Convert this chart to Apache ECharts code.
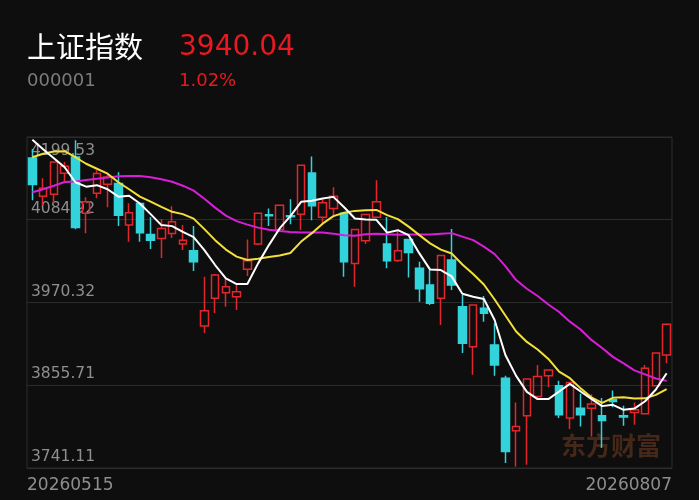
<!DOCTYPE html>
<html>
<head>
<meta charset="utf-8">
<script src="https://cdn.jsdelivr.net/npm/echarts@6/dist/echarts.min.js"></script>
<style>
html,body{margin:0;padding:0;background:#0e0e0e;}
#c{width:699px;height:500px;}
</style>
</head>
<body>
<div id="c"></div>
<script>
const indexName = '上证指数';
const indexCode = '000001';
const lastPriceText = '3940.04';
const changeText = '1.02%';
const watermarkText = '东方财富';

const dates = ['20260515','20260518','20260519','20260520','20260521','20260522','20260525','20260526','20260527','20260528','20260529',
'20260601','20260602','20260603','20260604','20260605','20260608','20260609','20260610','20260611','20260612','20260615','20260616','20260617','20260618','20260622','20260623','20260624','20260625','20260626','20260629','20260630',
'20260701','20260702','20260703','20260706','20260707','20260708','20260709','20260710','20260713','20260714','20260715','20260716','20260717','20260720','20260721','20260722','20260723','20260724','20260727','20260728','20260729','20260730','20260731',
'20260803','20260804','20260805','20260806','20260807'];

const opens = [4170.5,4117.5,4120.3,4149.3,4171.9,4094.0,4121.7,4134.1,4135.1,4077.5,4107.5,4064.6,4059.1,4066.0,4051.2,4041.9,3937.8,3976.1,3983.9,3978.3,4016.2,4051.2,4092.0,4071.5,4090.6,4092.7,4149.8,4088.5,4100.5,4094.0,4024.5,4055.8,4088.5,4051.2,4028.4,4057.4,4017.6,3994.5,3976.1,4029.1,3964.5,3909.2,3962.3,3911.6,3865.5,3792.7,3813.4,3840.1,3868.7,3854.9,3810.2,3824.0,3824.0,3813.4,3835.5,3813.4,3818.0,3816.2,3854.9,3897.7];
const closes = [4133.7,4128.6,4165.0,4159.0,4074.3,4109.7,4148.9,4144.2,4091.3,4094.5,4066.8,4056.7,4072.9,4082.0,4056.7,4026.7,3959.0,4008.3,3992.2,3985.2,4028.1,4094.0,4090.6,4105.1,4089.2,4160.4,4104.4,4108.3,4117.5,4026.7,4071.5,4092.2,4110.0,4028.1,4041.9,4039.4,3989.4,3969.2,4035.3,3994.5,3913.9,3966.8,3955.4,3883.9,3764.0,3798.6,3864.5,3867.7,3877.0,3814.8,3859.4,3814.8,3829.6,3806.9,3833.2,3811.6,3821.7,3879.3,3900.26,3940.04];
const lows = [4112.0,4105.1,4107.9,4137.3,4071.9,4066.4,4114.8,4102.3,4076.1,4054.4,4054.4,4044.3,4031.8,4059.5,4042.9,4013.9,3928.1,3955.8,3964.5,3959.9,4006.9,4050.0,4076.1,4070.0,4078.8,4070.6,4084.4,4080.2,4088.5,4005.9,3992.2,4051.2,4088.0,4017.6,4026.3,4004.9,3971.4,3966.8,3939.2,3987.6,3900.5,3870.1,3943.8,3868.7,3748.0,3743.3,3745.6,3835.5,3853.1,3810.2,3795.0,3798.6,3784.8,3768.7,3825.4,3799.6,3800.9,3815.5,3854.0,3886.2];
const highs = [4183.0,4142.4,4166.0,4165.0,4195.0,4116.2,4153.5,4148.0,4150.7,4107.9,4108.0,4088.5,4085.8,4103.7,4077.5,4076.1,4005.9,4009.7,4004.2,3997.3,4057.7,4095.0,4100.5,4106.0,4113.4,4161.0,4172.4,4113.4,4130.0,4095.0,4072.0,4093.0,4139.7,4088.9,4068.2,4058.0,4026.7,4015.3,4036.0,4072.0,3980.7,3967.0,3979.3,3941.5,3868.7,3831.8,3865.0,3883.9,3877.5,3861.8,3860.0,3843.8,3843.4,3837.9,3848.4,3827.2,3831.8,3883.9,3901.5,3940.8];

const ma5 = [4195.7,4182.5,4170.1,4157.6,4136.9,4130.7,4132.8,4127.2,4116.9,4118.2,4107.5,4092.7,4077.5,4076.1,4068.2,4060.9,4042.9,4022.2,4003.8,3995.9,3995.9,4024.5,4049.8,4072.9,4089.9,4109.7,4111.3,4114.4,4116.6,4102.3,4086.7,4085.3,4084.8,4067.1,4070.5,4063.6,4038.3,4015.9,4015.2,4006.5,3982.5,3978.3,3975.2,3946.1,3897.7,3868.7,3846.6,3836.6,3836.5,3847.0,3857.6,3847.0,3836.9,3826.8,3828.6,3821.7,3823.4,3833.5,3849.8,3872.4];
const ma10 = [4171.5,4176.3,4179.4,4179.8,4171.5,4162.5,4155.6,4148.7,4136.9,4127.2,4116.9,4110.0,4102.8,4095.9,4092.7,4086.5,4071.9,4056.7,4043.6,4033.9,4029.1,4030.9,4033.2,4035.3,4038.8,4054.7,4066.4,4079.5,4089.9,4094.7,4097.2,4098.2,4098.6,4091.3,4085.8,4075.4,4063.6,4052.2,4043.6,4038.1,4022.9,4009.7,3995.2,3974.5,3952.3,3930.2,3915.7,3905.3,3892.2,3874.7,3865.5,3851.4,3839.0,3831.4,3838.3,3839.0,3837.3,3837.6,3842.4,3850.3];
const ma20 = [4123.1,4127.2,4132.1,4137.3,4137.9,4140.1,4141.7,4143.4,4145.2,4145.6,4145.6,4143.8,4141.1,4137.6,4132.1,4125.2,4114.1,4101.7,4090.6,4083.0,4078.2,4074.0,4071.2,4069.2,4067.8,4067.1,4067.1,4067.1,4065.7,4063.6,4062.9,4065.0,4065.7,4065.0,4064.3,4064.6,4064.6,4064.6,4065.7,4066.4,4061.6,4056.7,4047.7,4037.4,4020.8,4001.4,3989.4,3979.3,3967.6,3957.2,3943.8,3933.0,3918.5,3907.4,3895.0,3886.0,3876.3,3870.8,3865.0,3861.8];

const yMin = 3741.11, yMax = 4199.53;
const yTickLabels = ['3741.11','3855.71','3970.32','4084.92','4199.53'];

const kData = opens.map((o, i) => [o, closes[i], lows[i], highs[i]]);

const UP = '#e3262d', DOWN = '#33d3db';
const latin = 'DejaVu Sans';
const cjk = 'Noto Sans CJK SC';

const chart = echarts.init(document.getElementById('c'), null, {renderer: 'canvas'});
const lastIdx = dates.length - 1;
chart.setOption({
  animation: false,
  backgroundColor: '#0e0e0e',
  grid: {left: 27, right: 27, top: 137, bottom: 32, show: true, borderColor: '#2c2c2c', borderWidth: 1},
  graphic: [
    {type: 'text', left: 27, top: 32, z: 10, style: {text: indexName, fill: '#ffffff', font: 'normal 29px "' + cjk + '"'}},
    {type: 'text', left: 179, top: 34, z: 10, style: {text: lastPriceText, fill: '#e8191f', font: 'normal 28px "' + latin + '"'}},
    {type: 'text', left: 27, top: 72, z: 10, style: {text: indexCode, fill: '#7c7c7c', font: 'normal 18px "' + latin + '"'}},
    {type: 'text', left: 179, top: 72, z: 10, style: {text: changeText, fill: '#e8191f', font: 'normal 18px "' + latin + '"'}},
    {type: 'text', left: 561, top: 433, z: 0, style: {text: watermarkText, fill: '#45281a', font: 'bold 25px "' + cjk + '"'}}
  ],
  xAxis: [
    {type: 'category', data: dates, boundaryGap: true, gridIndex: 0,
      axisLine: {show: false}, axisTick: {show: false}, axisLabel: {show: false}, splitLine: {show: false}},
    {type: 'category', data: dates, boundaryGap: false, gridIndex: 0, position: 'bottom',
      axisLine: {show: false}, axisTick: {show: false}, splitLine: {show: false},
      axisLabel: {show: true, interval: (idx) => idx === 0 || idx === lastIdx, margin: 9,
        color: '#8e8e8e', fontFamily: latin, fontSize: 17, alignMinLabel: 'left', alignMaxLabel: 'right'}}
  ],
  yAxis: [
    {type: 'value', min: yMin, max: yMax, interval: (yMax - yMin) / 4, position: 'left',
      axisLine: {show: false}, axisTick: {show: false},
      splitLine: {show: true, lineStyle: {color: '#2c2c2c', width: 1}},
      axisLabel: {inside: true, margin: 4, verticalAlign: 'bottom', color: '#8e8e8e', fontFamily: latin, fontSize: 15.5,
        padding: [0, 0, 3, 0], showMinLabel: true, showMaxLabel: true,
        formatter: (v, i) => i < 4 ? yTickLabels[i] : ''}},
    {type: 'value', min: yMin, max: yMax, interval: (yMax - yMin) / 4, position: 'left',
      axisLine: {show: false}, axisTick: {show: false}, splitLine: {show: false},
      axisLabel: {inside: true, margin: 4, verticalAlign: 'top', color: '#8e8e8e', fontFamily: latin, fontSize: 15.5,
        padding: [6, 0, 0, 0], showMinLabel: true, showMaxLabel: true,
        formatter: (v, i) => i === 4 ? yTickLabels[4] : ''}}
  ],
  series: [
    {type: 'candlestick', data: kData, xAxisIndex: 0, yAxisIndex: 0, barWidth: 8, z: 2,
      itemStyle: {color: 'transparent', color0: DOWN, borderColor: UP, borderColor0: DOWN, borderWidth: 1.5}},
    {type: 'line', data: ma20, xAxisIndex: 0, yAxisIndex: 0, symbol: 'none', z: 3,
      lineStyle: {color: '#d81ed8', width: 2}},
    {type: 'line', data: ma10, xAxisIndex: 0, yAxisIndex: 0, symbol: 'none', z: 4,
      lineStyle: {color: '#f3e03a', width: 2}},
    {type: 'line', data: ma5, xAxisIndex: 0, yAxisIndex: 0, symbol: 'none', z: 5,
      lineStyle: {color: '#ffffff', width: 2}}
  ]
});
</script>
</body>
</html>
